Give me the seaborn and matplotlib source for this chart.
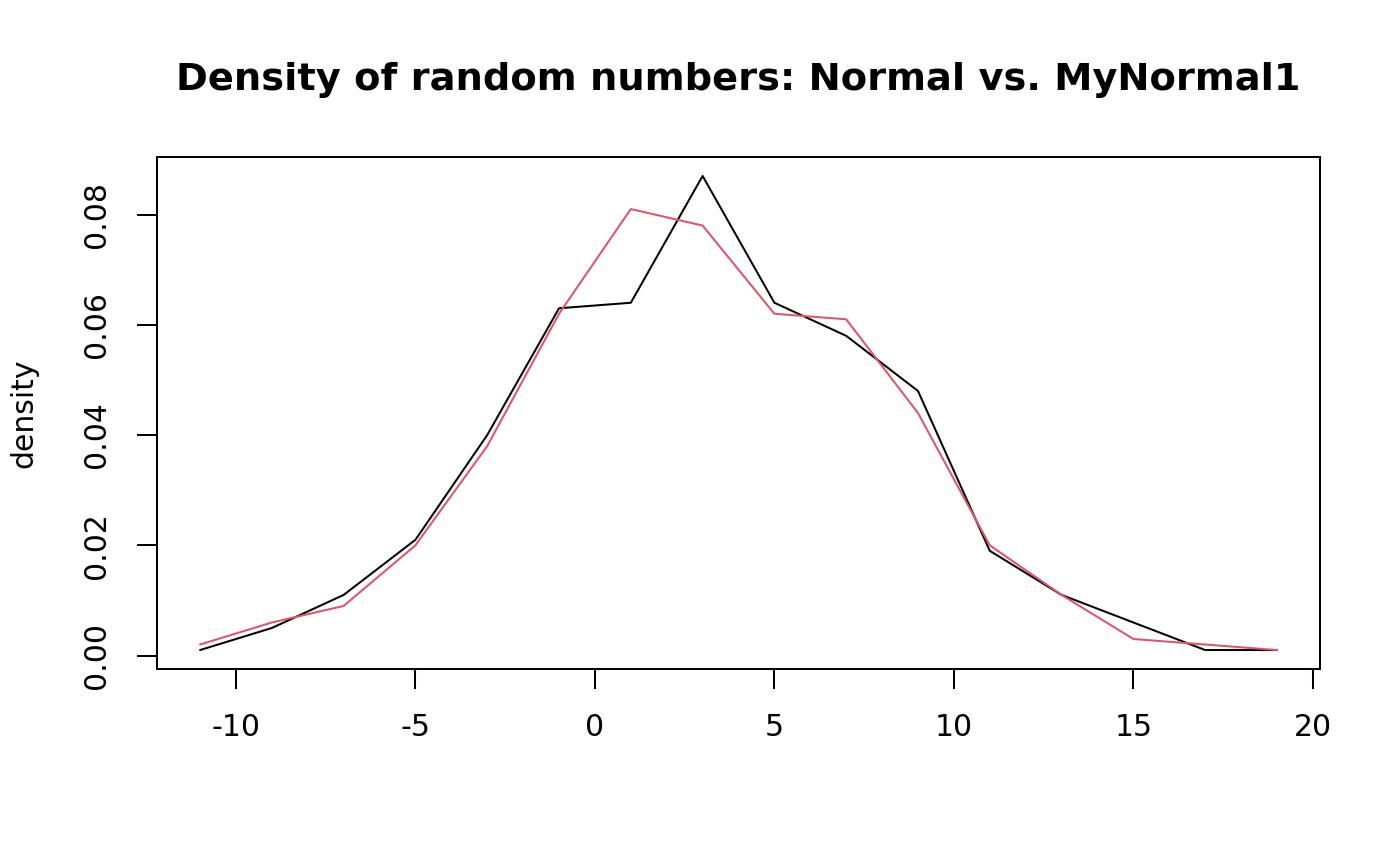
import numpy as np
import pandas as pd
import matplotlib
matplotlib.use("Agg")
import matplotlib.pyplot as plt
import seaborn as sns

# bin midpoints and densities
x_mid = [-11, -9, -7, -5, -3, -1, 1, 3, 5, 7, 9, 11, 13, 15, 17, 19]
normal_density = [0.001, 0.005, 0.011, 0.021, 0.040, 0.063, 0.064, 0.087,
                  0.064, 0.058, 0.048, 0.019, 0.011, 0.006, 0.001, 0.001]
mynormal_density = [0.002, 0.006, 0.009, 0.020, 0.038, 0.062, 0.081, 0.078,
                    0.062, 0.061, 0.044, 0.020, 0.011, 0.003, 0.002, 0.001]
x_ticks = [-10, -5, 0, 5, 10, 15, 20]
y_ticks = [0.00, 0.02, 0.04, 0.06, 0.08]

df = pd.DataFrame({
    "x": x_mid * 2,
    "density": normal_density + mynormal_density,
    "series": ["Normal"] * len(x_mid) + ["MyNormal1"] * len(x_mid),
})

sns.set_style("ticks")
plt.rcParams["font.family"] = ["DejaVu Sans"]
plt.rcParams["text.color"] = "black"
plt.rcParams["axes.labelcolor"] = "black"

fig = plt.figure(figsize=(14, 8.66), dpi=100)
ax = fig.add_axes([157 / 1400, 1 - 669 / 866, 1163 / 1400, 512 / 866])

sns.lineplot(data=df, x="x", y="density", hue="series",
             palette={"Normal": "black", "MyNormal1": "#DF536B"},
             linewidth=1.45, legend=False, ax=ax, estimator=None, sort=False)

# R-style 4% padding around the data range
xmin, xmax = min(x_mid), max(x_mid)
ymin = min(normal_density + mynormal_density)
ymax = max(normal_density + mynormal_density)
dx, dy = (xmax - xmin) * 0.04, (ymax - ymin) * 0.04
ax.set_xlim(xmin - dx, xmax + dx)
ax.set_ylim(ymin - dy, ymax + dy)

ax.set_xticks(x_ticks)
ax.set_xticklabels([str(t) for t in x_ticks])
ax.set_yticks(y_ticks)
ax.set_yticklabels([f"{t:.2f}" for t in y_ticks], rotation=90, va="center")

for s in ax.spines.values():
    s.set_visible(True)
    s.set_linewidth(1.45)
    s.set_color("black")

ax.tick_params(axis="both", length=14.4, width=1.45, color="black",
               labelsize=21.5, labelcolor="black", direction="out")
ax.tick_params(axis="x", pad=17)
ax.tick_params(axis="y", pad=19)

ax.set_xlabel("")
ax.set_ylabel("density", fontsize=21.5, color="black")
ax.yaxis.set_label_coords(-0.102, 0.5)

ax.set_title("Density of random numbers: Normal vs. MyNormal1",
             fontsize=27.6, fontweight="bold", color="black",
             y=(669 - 80) / 512, va="center", pad=0)

fig.savefig("out.png", dpi=100)
